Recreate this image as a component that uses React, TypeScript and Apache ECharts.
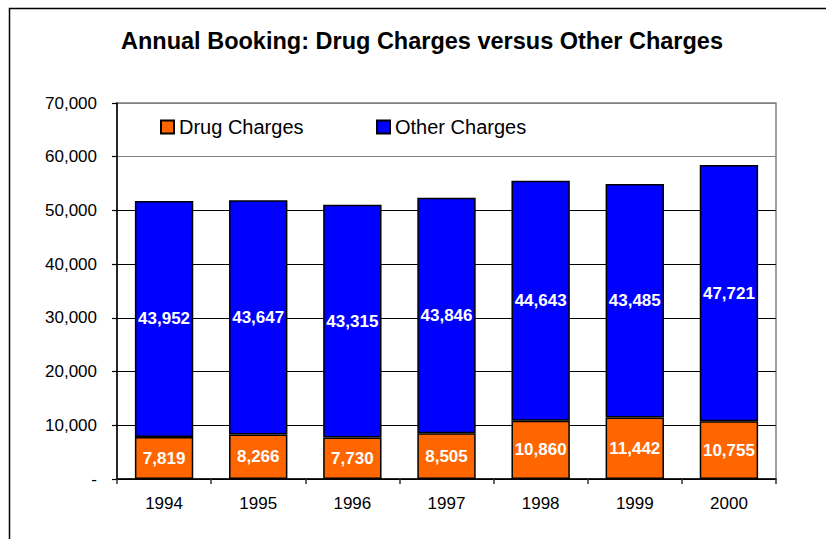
import React, { useEffect, useRef } from "react";
import * as echarts from "echarts";

const years = ["1994", "1995", "1996", "1997", "1998", "1999", "2000"];
const drugCharges = [7819, 8266, 7730, 8505, 10860, 11442, 10755];
const otherCharges = [43952, 43647, 43315, 43846, 44643, 43485, 47721];
const titleText = "Annual Booking: Drug Charges versus Other Charges";

const FONT = "'Liberation Sans', Arial, sans-serif";
const fmt = (v: number) => (v === 0 ? "-" : v.toLocaleString("en-US"));

export default function App() {
  const ref = useRef<HTMLDivElement>(null);
  useEffect(() => {
    if (!ref.current) return;
    const chart = echarts.init(ref.current, undefined, { renderer: "svg" });
    const labelStyle = {
      show: true,
      position: "inside" as const,
      color: "#ffffff",
      fontWeight: "bold" as const,
      fontSize: 17,
      fontFamily: FONT,
      formatter: (p: any) => fmt(p.value),
    };
    const legendText = { fontSize: 20, color: "#000", fontFamily: FONT };
    chart.setOption({
      animation: false,
      backgroundColor: "#ffffff",
      textStyle: { fontFamily: FONT },
      title: {
        text: titleText,
        left: 422,
        top: 29,
        padding: 0,
        textAlign: "center",
        textStyle: { fontSize: 23.5, fontWeight: "bold", color: "#000", fontFamily: FONT },
      },
      legend: [
        {
          data: ["Drug Charges"],
          left: 160,
          top: 117,
          padding: 0,
          itemWidth: 13,
          itemHeight: 13,
          icon: "rect",
          textStyle: legendText,
        },
        {
          data: ["Other Charges"],
          left: 376,
          top: 117,
          padding: 0,
          itemWidth: 13,
          itemHeight: 13,
          icon: "rect",
          textStyle: legendText,
        },
      ],
      graphic: [
        {
          type: "rect",
          shape: { x: 9.5, y: 8.5, width: 840, height: 560 },
          style: { fill: "none", stroke: "#000", lineWidth: 1.5 },
          silent: true,
          z: -1,
        },
      ],
      grid: {
        left: 117,
        top: 103,
        right: 50,
        bottom: 60,
        show: true,
        borderColor: "#808080",
        borderWidth: 1.5,
        backgroundColor: "#ffffff",
      },
      xAxis: {
        type: "category",
        data: years,
        axisLine: { lineStyle: { color: "#000", width: 1.5 } },
        axisTick: { show: true, length: 5, lineStyle: { color: "#333", width: 1.5 } },
        axisLabel: { fontSize: 17, color: "#000", margin: 16, fontFamily: FONT },
      },
      yAxis: {
        type: "value",
        min: 0,
        max: 70000,
        interval: 10000,
        axisLine: { show: true, lineStyle: { color: "#000", width: 1.5 } },
        axisTick: { show: true, length: 5, lineStyle: { color: "#000", width: 1.2 } },
        splitLine: {
          show: true,
          lineStyle: {
            color: ["#000", "#000", "#000", "#000", "#000", "#000", "#808080", "#808080"],
            width: 1.2,
          },
        },
        axisLabel: {
          fontSize: 17,
          color: "#000",
          margin: 20,
          fontFamily: FONT,
          formatter: (v: number) => fmt(v),
        },
      },
      series: [
        {
          name: "Drug Charges",
          type: "bar",
          stack: "total",
          data: drugCharges,
          barWidth: "62%",
          itemStyle: { color: "#ff6600", borderColor: "#000", borderWidth: 1.5 },
          label: labelStyle,
        },
        {
          name: "Other Charges",
          type: "bar",
          stack: "total",
          data: otherCharges,
          barWidth: "62%",
          itemStyle: { color: "#0000ff", borderColor: "#000", borderWidth: 1.5 },
          label: labelStyle,
        },
      ],
    });
    return () => chart.dispose();
  }, []);
  return (
    <div
      ref={ref}
      style={{ position: "fixed", left: 0, top: 0, width: 826, height: 539 }}
    />
  );
}
